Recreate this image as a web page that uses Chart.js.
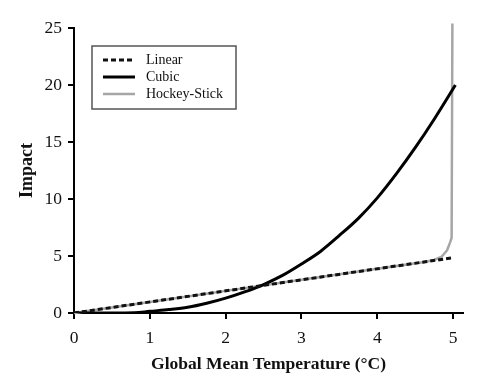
<!DOCTYPE html>
<html><head><meta charset="utf-8">
<script src="https://cdn.jsdelivr.net/npm/chart.js@4/dist/chart.umd.min.js"></script>
<style>html,body{margin:0;padding:0;background:#fff}#wrap{width:484px;height:378px}</style>
</head><body><div id="wrap"><canvas id="c" width="484" height="378"></canvas></div>
<script>
const xTicks = [0, 1, 2, 3, 4, 5];
const yTicks = [0, 5, 10, 15, 20, 25];
const linearX = [0, 5];
const linearY = [0, 4.85];
const cubicX = [0, 0.5, 0.8, 1, 1.25, 1.5, 1.75, 2, 2.25, 2.5, 2.75, 3, 3.25, 3.5, 3.75, 4, 4.25, 4.5, 4.75, 5.03];
const cubicY = [0, 0, 0.02, 0.15, 0.3, 0.5, 0.85, 1.3, 1.85, 2.5, 3.3, 4.3, 5.4, 6.8, 8.3, 10.1, 12.2, 14.5, 17.0, 20.0];
const hockeyX = [0, 1, 2, 3, 4, 4.6, 4.75, 4.85, 4.92, 4.96, 4.98, 4.99];
const hockeyY = [0, 0.97, 1.94, 2.91, 3.88, 4.46, 4.65, 4.95, 5.5, 6.2, 6.6, 25.4];

const pts = (xs, ys) => xs.map((x, i) => ({x: x, y: ys[i]}));
const serif = "'Liberation Serif', 'DejaVu Serif', serif";

const legendPlugin = {
  id: 'boxLegend',
  afterDatasetsDraw(chart) {
    const ctx = chart.ctx;
    const x0 = 92, y0 = 46, w = 144, h = 63;
    ctx.save();
    ctx.fillStyle = '#fff';
    ctx.fillRect(x0, y0, w, h);
    ctx.strokeStyle = '#555';
    ctx.lineWidth = 1.5;
    ctx.strokeRect(x0, y0, w, h);
    ctx.font = "14px " + serif;
    ctx.textBaseline = 'middle';
    chart.data.datasets.forEach((ds, i) => {
      const yy = y0 + 14 + i * 17;
      ctx.beginPath();
      ctx.setLineDash(ds.borderDash || []);
      ctx.strokeStyle = ds.borderColor;
      ctx.lineWidth = ds.borderWidth;
      ctx.moveTo(x0 + 11, yy);
      ctx.lineTo(x0 + 43, yy);
      ctx.stroke();
      ctx.setLineDash([]);
      ctx.fillStyle = '#111';
      ctx.fillText(ds.label, x0 + 54, yy);
    });
    ctx.restore();
  }
};

new Chart(document.getElementById('c'), {
  type: 'line',
  data: {
    datasets: [
      {label: 'Linear', data: pts(linearX, linearY), borderColor: '#111', borderWidth: 3, borderDash: [5, 3], pointRadius: 0, tension: 0},
      {label: 'Cubic', data: pts(cubicX, cubicY), borderColor: '#000', borderWidth: 3, pointRadius: 0, cubicInterpolationMode: 'monotone'},
      {label: 'Hockey-Stick', data: pts(hockeyX, hockeyY), borderColor: '#a6a6a6', borderWidth: 2.5, pointRadius: 0, tension: 0, clip: false}
    ]
  },
  options: {
    responsive: false,
    animation: false,
    events: [],
    layout: {padding: {top: 28, right: 21, left: 0, bottom: 0}},
    plugins: {legend: {display: false}, tooltip: {enabled: false}},
    scales: {
      x: {
        type: 'linear', min: 0, max: 5.13,
        afterBuildTicks: s => { s.ticks = xTicks.map(v => ({value: v})); },
        afterFit: s => { s.height = 65; },
        border: {display: true, color: '#000', width: 2},
        grid: {drawOnChartArea: false, drawTicks: true, tickLength: 6, color: '#000', lineWidth: 2},
        ticks: {color: '#111', font: {family: serif, size: 17.5}, padding: 9, autoSkip: false, maxRotation: 0},
        title: {display: true, text: 'Global Mean Temperature (°C)', color: '#111', font: {family: serif, size: 17.5, weight: 'bold'}, padding: {top: 2, bottom: 3}}
      },
      y: {
        type: 'linear', min: 0, max: 25,
        afterBuildTicks: s => { s.ticks = yTicks.map(v => ({value: v})); },
        afterFit: s => { s.width = 74; },
        border: {display: true, color: '#000', width: 2},
        grid: {drawOnChartArea: false, drawTicks: true, tickLength: 6, color: '#000', lineWidth: 2},
        ticks: {color: '#111', font: {family: serif, size: 17.5}, padding: 6},
        title: {display: true, text: 'Impact', color: '#111', font: {family: serif, size: 18, weight: 'bold'}, padding: {top: 17, bottom: 0}}
      }
    }
  },
  plugins: [legendPlugin]
});
</script></body></html>
